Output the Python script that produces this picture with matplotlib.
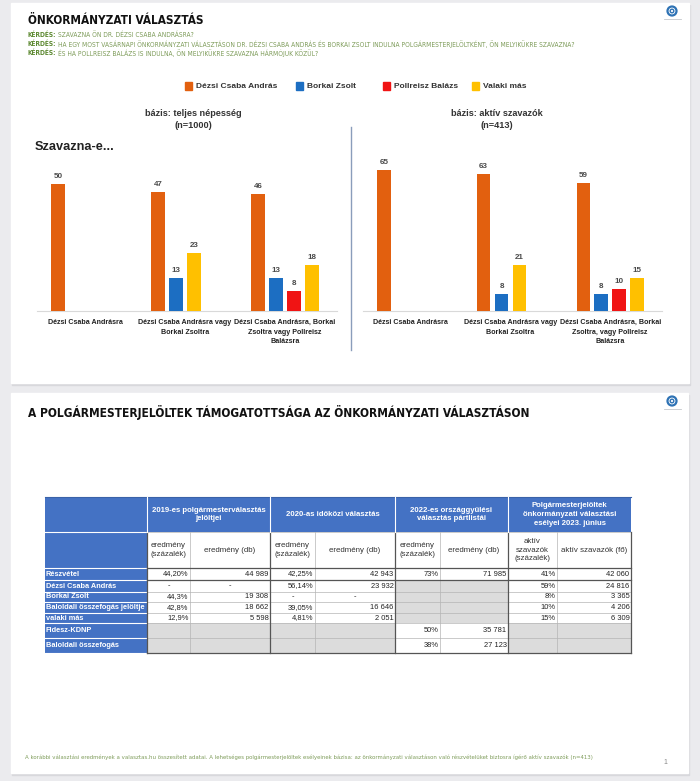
import matplotlib
matplotlib.use("Agg")
import matplotlib.pyplot as plt
from matplotlib.patches import Rectangle, Circle

W, H = 700, 781

# ---- bar chart data (None = candidate not in that question)
series = ["Dézsi Csaba András", "Borkai Zsolt", "Pollreisz Balázs", "Valaki más"]
series_colors = ["#E2600F", "#1C6EC2", "#F01414", "#FFC000"]

cats_all = ["Dézsi Csaba Andrásra",
            "Dézsi Csaba Andrásra vagy\nBorkai Zsoltra",
            "Dézsi Csaba Andrásra, Borkai\nZsoltra vagy Pollreisz\nBalázsra"]
cats_active = ["Dézsi Csaba Andrásra",
               "Dézsi Csaba Andrásra vagy\nBorkai Zsoltra",
               "Dézsi Csaba Andrásra, Borkai\nZsoltra, vagy Pollreisz\nBalázsra"]

dezsi_all = [50, 47, 46]
borkai_all = [None, 13, 13]
pollreisz_all = [None, None, 8]
valaki_all = [None, 23, 18]

dezsi_active = [65, 63, 59]
borkai_active = [None, 8, 8]
pollreisz_active = [None, None, 10]
valaki_active = [None, 21, 15]

questions = [
    "SZAVAZNA ÖN DR. DÉZSI CSABA ANDRÁSRA?",
    "HA EGY MOST VASÁRNAPI ÖNKORMÁNYZATI VÁLASZTÁSON DR. DÉZSI CSABA ANDRÁS ÉS BORKAI ZSOLT "
    "INDULNA POLGÁRMESTERJELÖLTKÉNT, ÖN MELYIKÜKRE SZAVAZNA?",
    "ÉS HA POLLREISZ BALÁZS IS INDULNA, ÖN MELYIKÜKRE SZAVAZNA HÁRMÓJUK KÖZÜL?",
]

# ---- table data
group_heads = ["2019-es polgármesterválasztás\njelöltjei", "2020-as időközi választás",
               "2022-es országgyűlési\nválasztás pártlistái",
               "Polgármesterjelöltek\nönkormányzati választási\nesélyei 2023. június"]
sub_heads = ["eredmény\n(százalék)", "eredmény (db)", "eredmény\n(százalék)", "eredmény (db)",
             "eredmény\n(százalék)", "eredmény (db)", "aktív\nszavazók\n(százalék)",
             "aktív szavazók (fő)"]
row_labels = ["Részvétel", "Dézsi Csaba András", "Borkai Zsolt",
              "Baloldali összefogás jelöltje", "valaki más", "Fidesz-KDNP",
              "Baloldali összefogás"]
# "" = grey (empty) cell
table_rows = [
    ["44,20%", "44 989", "42,25%", "42 943", "73%", "71 985", "41%", "42 060"],
    ["-", "-", "56,14%", "23 932", "", "", "59%", "24 816"],
    ["44,3%", "19 308", "-", "-", "", "", "8%", "3 365"],
    ["42,8%", "18 662", "39,05%", "16 646", "", "", "10%", "4 206"],
    ["12,9%", "5 598", "4,81%", "2 051", "", "", "15%", "6 309"],
    ["", "", "", "", "50%", "35 781", "", ""],
    ["", "", "", "", "38%", "27 123", "", ""],
]

FONT = ["Liberation Sans", "DejaVu Sans"]
NARROW = ["Liberation Sans Narrow", "DejaVu Sans"]
plt.rcParams["font.family"] = FONT

fig = plt.figure(figsize=(W / 100, H / 100), dpi=100, facecolor="#ebebee")
bg = fig.add_axes([0, 0, 1, 1])
bg.set_xlim(0, W)
bg.set_ylim(H, 0)
bg.axis("off")
renderer = fig.canvas.get_renderer()


def fit(t, width):
    w = t.get_window_extent(renderer).width
    t.set_fontsize(t.get_fontsize() * width / w)
    return t


def text_width(t):
    return t.get_window_extent(renderer).width


# slides
for (x0, y0, x1, y1) in [(11, 3, 689, 383), (11, 393, 688, 773)]:
    bg.add_patch(Rectangle((x0 + 1, y0 + 2), x1 - x0, y1 - y0, color="#d8d8dc", zorder=0))
    bg.add_patch(Rectangle((x0, y0), x1 - x0, y1 - y0, color="white", zorder=1))

# logos
for cy in (11, 401):
    bg.add_patch(Circle((672, cy), 4.5, fill=False, ec="#2f73b5", lw=1.6, zorder=3))
    bg.add_patch(Circle((672, cy), 1.8, fill=False, ec="#2f73b5", lw=1.0, zorder=3))
    bg.plot([664, 681], [cy + 7.5, cy + 7.5], color="#c4c8cc", lw=0.6, zorder=3)

# ---- slide 1 texts
t = bg.text(28, 21, "ÖNKORMÁNYZATI VÁLASZTÁS", family=NARROW, fontstretch="condensed",
            weight="bold", fontsize=10, va="center", color="#111111", zorder=4)
fit(t, 175)

green_b, green = "#5e8a33", "#7e9c5a"
qsize = None
for i, q in enumerate(questions):
    y = 34.5 + 9.2 * i
    tb = bg.text(28, y, "KÉRDÉS:", family=NARROW, fontstretch="condensed", weight="bold",
                 fontsize=4.5, color=green_b, va="center", zorder=4)
    if qsize is None:
        probe = bg.text(0, 0, "KÉRDÉS: " + questions[1], family=NARROW,
                        fontstretch="condensed", fontsize=4.5)
        fit(probe, 631)
        qsize = probe.get_fontsize() * 0.86
        probe.remove()
    tb.set_fontsize(qsize)
    wb = text_width(tb)
    bg.text(28 + wb + 2, y, q, family=NARROW, fontstretch="condensed", fontsize=qsize,
            color=green, va="center", zorder=4)

# legend
for x, name, c in zip([185, 296, 383, 472], series, series_colors):
    bg.add_patch(Rectangle((x, 82), 7, 8, color=c, zorder=4))
    bg.text(x + 11, 86, name, fontsize=6, weight="bold", color="#333333",
            va="center", zorder=4)

for cx, l1, l2 in [(193, "bázis: teljes népesség", "(n=1000)"),
                   (497, "bázis: aktív szavazók", "(n=413)")]:
    bg.text(cx, 113, l1, fontsize=6.6, weight="bold", ha="center", va="center",
            color="#333333", zorder=4)
    bg.text(cx, 125, l2, fontsize=6.6, weight="bold", ha="center", va="center",
            color="#333333", zorder=4)
bg.text(35, 147, "Szavazna-e...", fontsize=9.2, weight="bold", va="center",
        color="#222222", zorder=4)
bg.plot([351, 351], [127, 350], color="#8a9dbb", lw=1, zorder=4)


def bar_panel(px0, px1, top, base, ymax, cats, values):
    ax = fig.add_axes([px0 / W, 1 - base / H, (px1 - px0) / W, (base - top) / H])
    ax.set_facecolor("none")
    ax.set_xlim(-0.48, 2.52)
    ax.set_ylim(0, ymax)
    for i in range(len(cats)):
        present = [(v[i], c) for v, c in zip(values, series_colors) if v[i] is not None]
        for k, (v, c) in enumerate(present):
            x = i + (k - 1.5) * 0.18
            ax.bar(x, v, width=0.135, color=c, zorder=3)
            ax.text(x, v + ymax * 0.025, str(v), ha="center", va="bottom",
                    fontsize=5.8, weight="bold", color="#4a4a4a")
    ax.set_xticks(range(len(cats)))
    ax.set_xticklabels(cats, fontsize=5.1, weight="bold", color="#222222",
                       linespacing=1.5)
    ax.tick_params(axis="x", length=0, pad=6)
    ax.set_yticks([])
    for s in ("left", "right", "top"):
        ax.spines[s].set_visible(False)
    ax.spines["bottom"].set_color("#d9d9d9")
    ax.spines["bottom"].set_linewidth(0.8)
    return ax


bar_panel(37, 337, 150, 311, 161 / 2.54, cats_all,
          [dezsi_all, borkai_all, pollreisz_all, valaki_all])
bar_panel(363, 662, 150, 311, 161 / 2.17, cats_active,
          [dezsi_active, borkai_active, pollreisz_active, valaki_active])

# ---- slide 2
t = bg.text(28, 412, "A POLGÁRMESTERJELÖLTEK TÁMOGATOTTSÁGA AZ ÖNKORMÁNYZATI VÁLASZTÁSON",
            family=NARROW, fontstretch="condensed", weight="bold", fontsize=9,
            va="center", color="#111111", zorder=4)
fit(t, 499)

cols = [45, 147, 190, 270, 315, 395, 440, 508, 557, 631]
rows = [497, 532, 568, 580, 592, 602, 613, 623, 638, 653]
blue, grey = "#4472C4", "#dcdcdc"


def cell(x0, x1, y0, y1, fc, zorder=3):
    bg.add_patch(Rectangle((x0, y0), x1 - x0, y1 - y0, fc=fc, ec="none", zorder=zorder))


# header rows
cell(cols[0], cols[-1], rows[0], rows[1], blue)
cell(cols[0], cols[1], rows[1], rows[-1], blue)
for g, head in enumerate(group_heads):
    xa, xb = cols[1 + 2 * g], cols[3 + 2 * g]
    bg.text((xa + xb) / 2, (rows[0] + rows[1]) / 2, head, ha="center", va="center",
            fontsize=5.6, weight="bold", color="white", linespacing=1.4, zorder=5)
    bg.plot([xa, xa], [rows[0], rows[1]], color="white", lw=0.8, zorder=5)
for j, sh in enumerate(sub_heads):
    xa, xb = cols[1 + j], cols[2 + j]
    bg.text((xa + xb) / 2, (rows[1] + rows[2]) / 2, sh, ha="center", va="center",
            fontsize=5.7, color="#333333", linespacing=1.3, zorder=5)

# body
for r, (label, vals) in enumerate(zip(row_labels, table_rows)):
    ya, yb = rows[2 + r], rows[3 + r]
    ym = (ya + yb) / 2
    bg.text(cols[0] + 1, ym, label, fontsize=5.3, weight="bold", color="white",
            va="center", zorder=5)
    for j, v in enumerate(vals):
        xa, xb = cols[1 + j], cols[2 + j]
        if v == "":
            cell(xa, xb, ya, yb, grey)
        elif v == "-":
            bg.text((xa + xb) / 2, ym, v, fontsize=5.4, color="#222222",
                    ha="center", va="center", zorder=5)
        else:
            bg.text(xb - 1.5, ym, v, fontsize=5.4, color="#222222",
                    ha="right", va="center", zorder=5)

# grid lines
for y in rows[1:]:
    bg.plot([cols[0], cols[1]], [y, y], color="white", lw=0.8, zorder=4)
for y in rows[1:-1]:
    bg.plot([cols[1], cols[-1]], [y, y], color="#b5b5b5", lw=0.5, zorder=4)
for x in cols[1:-1]:
    bg.plot([x, x], [rows[1], rows[-1]], color="#b5b5b5", lw=0.5, zorder=4)
for y in (rows[2], rows[3], rows[-1]):
    bg.plot([cols[1], cols[-1]], [y, y], color="#555555", lw=0.9, zorder=4)
for x in (cols[1], cols[3], cols[5], cols[7], cols[-1]):
    bg.plot([x, x], [rows[1], rows[-1]], color="#555555", lw=0.9, zorder=4)
bg.plot([cols[0], cols[-1]], [rows[0], rows[0]], color="#3a62a8", lw=0.8, zorder=4)

t = bg.text(25, 757, "A korábbi választási eredmények a valasztas.hu összesített adatai. "
            "A lehetséges polgármesterjelöltek esélyeinek bázisa: az önkormányzati választáson "
            "való részvételüket biztosra ígérő aktív szavazók (n=413)",
            family=NARROW, fontstretch="condensed", fontsize=4, color="#7e9c5a",
            va="center", zorder=4)
fit(t, 558)
bg.text(665, 762, "1", fontsize=5, color="#888888", ha="center", va="center", zorder=4)

fig.savefig("out.png", dpi=100, facecolor=fig.get_facecolor())
